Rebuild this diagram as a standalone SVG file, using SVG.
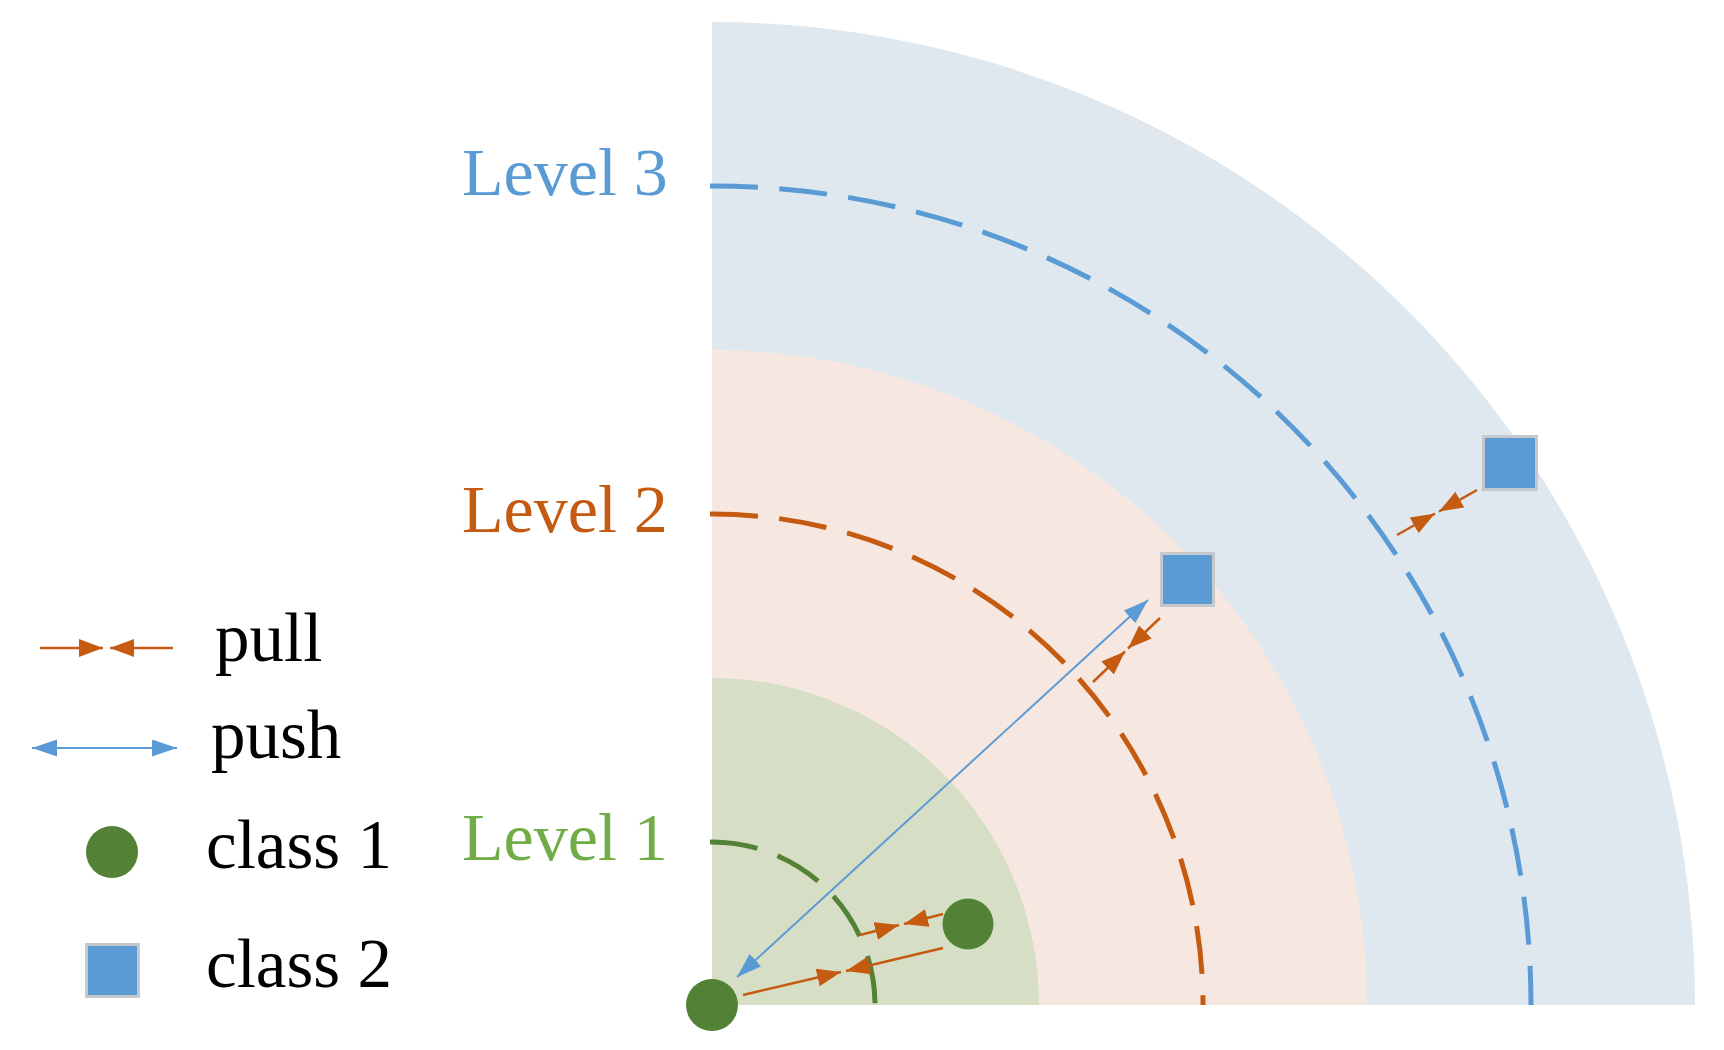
<svg xmlns="http://www.w3.org/2000/svg" width="1724" height="1050" viewBox="0 0 1724 1050">
<defs>
<style>
.lbl{font-family:"Liberation Serif","Times New Roman",serif;font-size:68px}
.leg{font-family:"Liberation Serif","Times New Roman",serif;font-size:69px;fill:#000}
.dash{fill:none;stroke-width:5;stroke-dasharray:48 21.4}
.pull{stroke:#C55A11;stroke-width:2.5;fill:none}
.push{stroke:#5B9BD5;stroke-width:2;fill:none}
.c1{fill:#538135}
.c2{fill:#5B9BD5;stroke:#C4C8CC;stroke-width:3}
</style>
<marker id="pullHead" markerUnits="userSpaceOnUse" markerWidth="26" markerHeight="20" refX="24" refY="9" orient="auto">
<path d="M0,0 L24,9 L0,18 Z" fill="#C55A11"/>
</marker>
<marker id="pushHead" markerUnits="userSpaceOnUse" markerWidth="26" markerHeight="18" refX="25" refY="8.5" orient="auto-start-reverse">
<path d="M0,0 L25,8.5 L0,17 Z" fill="#5B9BD5"/>
</marker>
</defs>
<rect width="1724" height="1050" fill="#FFFFFF"/>
<g id="regions">
<path d="M712,1005 L712,22 A983,983 0 0 1 1695,1005 Z" fill="#DFE8EE"/>
<path d="M712,1005 L712,350 A655,655 0 0 1 1367,1005 Z" fill="#F6E8E1"/>
<path d="M712,1005 L712,678 A327,327 0 0 1 1039,1005 Z" fill="#D6DFC5"/>
</g>
<g id="level-circles">
<path class="dash" stroke="#5B9BD5" d="M710,186 A819,819 0 0 1 1531,1005"/>
<path class="dash" stroke="#C55A11" d="M710,514 A491,491 0 0 1 1203,1005"/>
<path class="dash" stroke="#548235" d="M710,842 A163,163 0 0 1 875,1005"/>
</g>
<g id="level-labels">
<text id="level3" class="lbl" x="462" y="195" fill="#5B9BD5">Level 3</text>
<text id="level2" class="lbl" x="462" y="532" fill="#C55A11">Level 2</text>
<text id="level1" class="lbl" x="462" y="860" fill="#70AD47">Level 1</text>
</g>
<g id="connectors">
<line class="push" x1="737" y1="977" x2="1148" y2="600" marker-start="url(#pushHead)" marker-end="url(#pushHead)"/>
<line class="pull" x1="743" y1="995" x2="841" y2="972" marker-end="url(#pullHead)"/>
<line class="pull" x1="943" y1="948" x2="846" y2="971" marker-end="url(#pullHead)"/>
<line class="pull" x1="860" y1="935" x2="899" y2="925" marker-end="url(#pullHead)"/>
<line class="pull" x1="943" y1="914" x2="904" y2="924" marker-end="url(#pullHead)"/>
<line class="pull" x1="1093" y1="682" x2="1125" y2="651.5" marker-end="url(#pullHead)"/>
<line class="pull" x1="1160" y1="618" x2="1128" y2="648.5" marker-end="url(#pullHead)"/>
<line class="pull" x1="1397" y1="535" x2="1435" y2="513.5" marker-end="url(#pullHead)"/>
<line class="pull" x1="1477" y1="490" x2="1439" y2="511.5" marker-end="url(#pullHead)"/>
</g>
<g id="node-c1-origin"><circle class="c1" cx="712" cy="1005" r="26"/></g>
<g id="node-c1-b"><circle class="c1" cx="968" cy="924" r="25.5"/></g>
<g id="node-c2-a"><rect class="c2" x="1161.5" y="553.5" width="52" height="52"/></g>
<g id="node-c2-b"><rect class="c2" x="1483.5" y="436.5" width="53" height="53"/></g>
<g id="legend">
<g id="legend-pull">
<line class="pull" x1="40" y1="648" x2="103" y2="648" marker-end="url(#pullHead)"/>
<line class="pull" x1="173" y1="648" x2="110" y2="648" marker-end="url(#pullHead)"/>
<text class="leg" x="215" y="661">pull</text>
</g>
<g id="legend-push">
<line class="push" x1="32" y1="748" x2="177" y2="748" marker-start="url(#pushHead)" marker-end="url(#pushHead)"/>
<text class="leg" x="211" y="758">push</text>
</g>
<g id="legend-class1">
<circle class="c1" cx="112" cy="852" r="26"/>
<text class="leg" x="206" y="868">class 1</text>
</g>
<g id="legend-class2">
<rect class="c2" x="86.5" y="944.5" width="52" height="52"/>
<text class="leg" x="206" y="987">class 2</text>
</g>
</g>
</svg>
